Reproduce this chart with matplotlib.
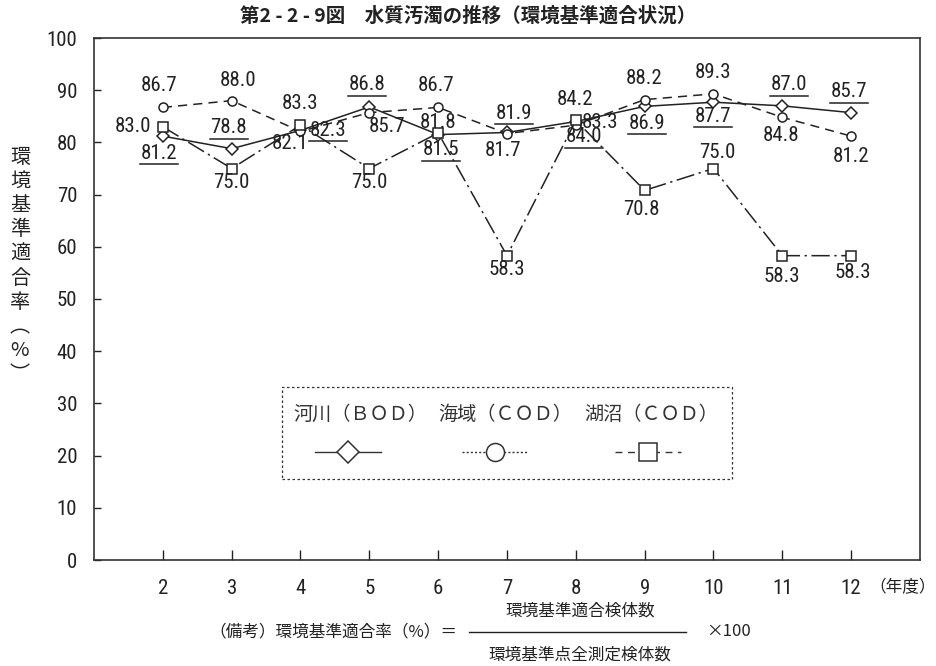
import matplotlib
matplotlib.use("Agg")
import matplotlib.pyplot as plt
from matplotlib.lines import Line2D
from matplotlib.patches import Rectangle

# data (年度 / 環境基準適合率 %)
years = [2, 3, 4, 5, 6, 7, 8, 9, 10, 11, 12]
river_bod = [81.2, 78.8, 82.3, 86.8, 81.5, 81.9, 84.0, 86.9, 87.7, 87.0, 85.7]
sea_cod = [86.7, 88.0, 82.1, 85.7, 86.7, 81.7, 83.3, 88.2, 89.3, 84.8, 81.2]
lake_cod = [83.0, 75.0, 83.3, 75.0, 81.8, 58.3, 84.2, 70.8, 75.0, 58.3, 58.3]
series_names = ["河川（ＢＯＤ）", "海域（ＣＯＤ）", "湖沼（ＣＯＤ）"]
y_ticks = [0, 10, 20, 30, 40, 50, 60, 70, 80, 90, 100]

# label offsets in pixels (dx, dy down)
river_off = [(-4, 17), (-3, -21), (28, 0), (-2, -22), (3, 15), (7, -19),
             (8, 15), (2, 17), (0, 14), (7, -21), (-2, -21)]
sea_off = [(-4, -22), (6, -20), (-10, 12), (18, 14), (-2, -22), (-4, 17),
           (24, -3), (-1, -21), (0, -21), (-1, 18), (0, 20)]
lake_off = [(-30, 0), (0, 14), (0, -22), (0, 14), (0, -11), (0, 14),
            (-1, -21), (-3, 19), (4, -16), (-1, 21), (2, 17)]

NUM = ["Roboto Condensed", "Liberation Sans Narrow", "Roboto", "DejaVu Sans"]
JP = ["Noto Sans CJK JP", "DejaVu Sans"]
FS = 15
INK = "#222222"

W, H = 937, 666
fig = plt.figure(figsize=(W / 100, H / 100), dpi=100)
ax = fig.add_axes([94 / W, 1 - 560 / H, (920 - 94) / W, (560 - 38) / H])
ax.set_xlim(1, 13)
ax.set_ylim(0, 100)

ax.plot(years, river_bod, color=INK, lw=1.1, marker="D", ms=6.5,
        mfc="white", mec=INK, mew=1.1)
ax.plot(years, sea_cod, color=INK, lw=1.1, ls=(0, (6, 4)), marker="o",
        ms=6.5, mfc="white", mec=INK, mew=1.1)
ax.plot(years, lake_cod, color=INK, lw=1.1, ls=(0, (12, 3, 1.5, 3)),
        marker="s", ms=7, mfc="white", mec=INK, mew=1.1)

fig.canvas.draw()


def label(vals, offs, underline=False):
    for x, v, (dx, dy) in zip(years, vals, offs):
        ax.annotate(f"{v:.1f}", (x, v), xytext=(dx, -dy),
                    textcoords="offset pixels", ha="center", va="center",
                    fontsize=FS, family=NUM, color=INK)
        if underline:
            px, py = ax.transData.transform((x, v))
            inv = ax.transData.inverted()
            x0, y0 = inv.transform((px + dx - 19, py - dy - 11))
            x1, _ = inv.transform((px + dx + 19, py - dy - 11))
            ax.plot([x0, x1], [y0, y0], color=INK, lw=1.1)


label(river_bod, river_off, underline=True)
label(sea_cod, sea_off)
label(lake_cod, lake_off)

ax.set_xticks(years)
ax.set_xticklabels([str(y) for y in years], family=NUM, fontsize=FS)
ax.set_yticks(y_ticks)
ax.set_yticklabels([str(t) for t in y_ticks], family=NUM, fontsize=FS)
ax.tick_params(axis="x", direction="in", length=7, width=1, pad=14,
               colors=INK)
ax.tick_params(axis="y", direction="in", length=5, width=1, pad=12,
               colors=INK)
for s in ax.spines.values():
    s.set_linewidth(1.2)
    s.set_color("#333333")

fig.text(869 / W, 1 - 588 / H, "（年度）", family=JP, fontsize=12,
         ha="left", va="center", color=INK)

fig.text(468 / W, 1 - 16 / H, "第2 - 2 - 9図　水質汚濁の推移（環境基準適合状況）",
         family=JP, fontsize=14, fontweight="bold", ha="center", va="center",
         color=INK)

fig.text(20 / W, 1 - 266 / H, "\n".join("環境基準適合率︵%︶"), family=JP,
         fontsize=14.5, ha="center", va="center", linespacing=1.2, color=INK)

# legend box
fig.patches.append(Rectangle((282 / W, 1 - 479 / H), (732 - 282) / W,
                             (479 - 387) / H, transform=fig.transFigure,
                             fill=False, ls=(0, (2, 2)), lw=0.9, color="#333333"))
leg_text_x = [360, 505, 651]
leg_mark_x = [348, 495, 648]
leg_styles = [("-", "D", 11), ((0, (1.5, 1.5)), "o", 13), ((0, (5, 4)), "s", 13)]
for name, tx, mx, (ls, mk, ms) in zip(series_names, leg_text_x, leg_mark_x,
                                      leg_styles):
    fig.text(tx / W, 1 - 414 / H, name, family=JP, fontsize=13.8,
             ha="center", va="center", color="#333333")
    fig.lines.append(Line2D([(mx - 33) / W, (mx + 33) / W],
                            [1 - 452 / H, 1 - 452 / H],
                            transform=fig.transFigure, color="#333333",
                            lw=1, ls=ls))
    fig.lines.append(Line2D([mx / W], [1 - 452 / H], transform=fig.transFigure,
                            marker=mk, ms=ms, mfc="white", mec="#333333",
                            mew=1.1, ls="none"))

# note
NS = 12
fig.text(457 / W, 1 - 632 / H, "（備考）環境基準適合率（%）＝", family=JP,
         fontsize=NS, ha="right", va="center", color=INK)
fig.lines.append(Line2D([469 / W, 686 / W], [1 - 632 / H, 1 - 632 / H],
                        transform=fig.transFigure, color=INK, lw=1))
fig.text(580 / W, 1 - 611 / H, "環境基準適合検体数", family=JP, fontsize=NS,
         ha="center", va="center", color=INK)
fig.text(580 / W, 1 - 655 / H, "環境基準点全測定検体数", family=JP, fontsize=NS,
         ha="center", va="center", color=INK)
fig.text(706 / W, 1 - 632 / H, "×100", family=JP, fontsize=NS,
         ha="left", va="center", color=INK)

fig.savefig("out.png", dpi=100)
